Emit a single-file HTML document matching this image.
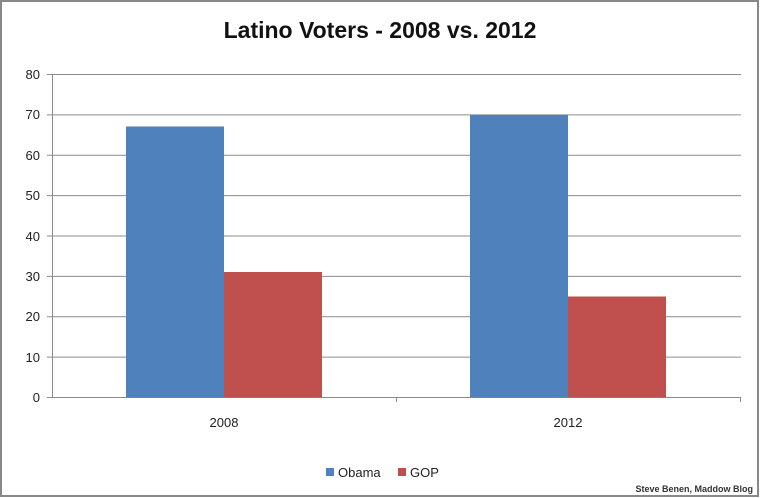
<!DOCTYPE html>
<html><head><style>
body{margin:0;background:#fff;}
</style></head><body>
<svg width="760" height="498" xmlns="http://www.w3.org/2000/svg" style="display:block">
<rect x="1" y="1" width="757" height="495" fill="#fff" stroke="#888" stroke-width="2"/>
<text x="380" y="38" text-anchor="middle" font-family="Liberation Sans, sans-serif" font-size="23" font-weight="bold" fill="#111">Latino Voters - 2008 vs. 2012</text>
<g stroke="#8c8c8c" stroke-width="1">
<line x1="47" y1="74.5" x2="741" y2="74.5"/>
<line x1="47" y1="114.9" x2="741" y2="114.9"/>
<line x1="47" y1="155.3" x2="741" y2="155.3"/>
<line x1="47" y1="195.6" x2="741" y2="195.6"/>
<line x1="47" y1="236" x2="741" y2="236"/>
<line x1="47" y1="276.4" x2="741" y2="276.4"/>
<line x1="47" y1="316.8" x2="741" y2="316.8"/>
<line x1="47" y1="357.1" x2="741" y2="357.1"/>
<line x1="47" y1="397.5" x2="741" y2="397.5"/>
<line x1="52.5" y1="74" x2="52.5" y2="398"/>
<line x1="396.5" y1="397" x2="396.5" y2="402"/>
<line x1="740.5" y1="397" x2="740.5" y2="402"/>
</g>
<rect x="126" y="126.5" width="98" height="271" fill="#4f81bd"/>
<rect x="224" y="272" width="98" height="125.5" fill="#c0504d"/>
<rect x="470" y="114.9" width="98" height="282.6" fill="#4f81bd"/>
<rect x="568" y="296.5" width="98" height="101" fill="#c0504d"/>
<g font-family="Liberation Sans, sans-serif" font-size="13" fill="#222" text-anchor="end">
<text x="40" y="79">80</text><text x="40" y="119">70</text><text x="40" y="160">60</text>
<text x="40" y="200">50</text><text x="40" y="241">40</text><text x="40" y="281">30</text>
<text x="40" y="321">20</text><text x="40" y="362">10</text><text x="40" y="402">0</text>
</g>
<g font-family="Liberation Sans, sans-serif" font-size="13" fill="#222" text-anchor="middle">
<text x="224" y="427">2008</text><text x="568" y="427">2012</text>
</g>
<rect x="326" y="468" width="8" height="8" fill="#4f81bd"/>
<text x="338" y="477" font-family="Liberation Sans, sans-serif" font-size="13" fill="#222">Obama</text>
<rect x="398" y="468" width="8" height="8" fill="#c0504d"/>
<text x="410" y="477" font-family="Liberation Sans, sans-serif" font-size="13" fill="#222">GOP</text>
<text x="753" y="492" text-anchor="end" font-family="Liberation Sans, sans-serif" font-size="9" font-weight="bold" fill="#333">Steve Benen, Maddow Blog</text>
</svg>
</body></html>
